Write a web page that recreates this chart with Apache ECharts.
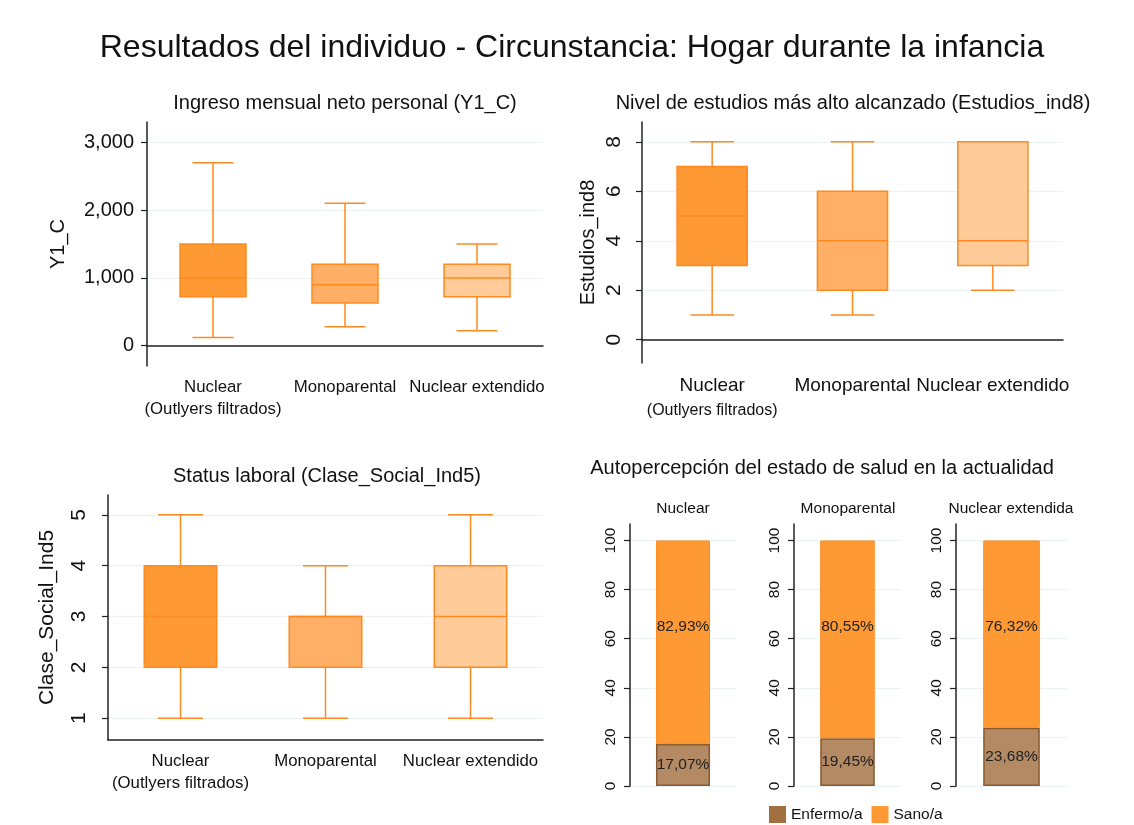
<!DOCTYPE html>
<html>
<head>
<meta charset="utf-8">
<script src="https://cdn.jsdelivr.net/npm/echarts@6/dist/echarts.min.js"></script>
<style>
html, body { margin: 0; padding: 0; background: #fff; }
#chart { width: 1134px; height: 825px; }
</style>
</head>
<body>
<div id="chart"></div>
<script>
// categories
const categories = ["Nuclear", "Monoparental", "Nuclear extendido"];
const filterNote = "(Outlyers filtrados)";
const saludGroups = ["Nuclear", "Monoparental", "Nuclear extendida"];

// boxes: [min, q1, median, q3, max]
const ingresoBoxes = [
  [120, 720, 1000, 1500, 2700],
  [280, 630, 900, 1200, 2100],
  [220, 720, 1000, 1200, 1500]
];
const estudiosBoxes = [
  [1, 3, 5, 7, 8],
  [1, 2, 4, 6, 8],
  [2, 3, 4, 8, 8]
];
const claseBoxes = [
  [1, 2, 3, 4, 5],
  [1, 2, 3, 3, 4],
  [1, 2, 3, 4, 5]
];

// salud (%)
const enfermo = [17.07, 19.45, 23.68];
const sano = [82.93, 80.55, 76.32];

// tick labels
const ingresoTicks = [0, 1000, 2000, 3000];
const estudiosTicks = [0, 2, 4, 6, 8];
const claseTicks = [1, 2, 3, 4, 5];
const saludTicks = [0, 20, 40, 60, 80, 100];

const FONT = "Liberation Sans, Arial, sans-serif";
const TXT = "#111";
const AXIS = "#222";
const GRIDLINE = "#EAF2F3";
const BOX_LINE = "#FF8A1F";
const BOX_FILLS = ["#FF9933", "#FFB066", "#FFCC99"];
const SANO = "#FF9933";
const ENFERMO = "#B38A63";

function boxItem(params, api) {
  const i = api.value(0);
  const lo = api.coord([i, api.value(1)]);
  const q1 = api.coord([i, api.value(2)]);
  const md = api.coord([i, api.value(3)]);
  const q3 = api.coord([i, api.value(4)]);
  const hi = api.coord([i, api.value(5)]);
  const bw = api.size([1, 0])[0] * 0.5;
  const cw = bw * 0.62;
  const x = lo[0];
  const ln = { stroke: BOX_LINE, lineWidth: 1.5 };
  return {
    type: "group",
    children: [
      { type: "line", shape: { x1: x, y1: q1[1], x2: x, y2: lo[1] }, style: ln },
      { type: "line", shape: { x1: x - cw / 2, y1: lo[1], x2: x + cw / 2, y2: lo[1] }, style: ln },
      { type: "line", shape: { x1: x, y1: q3[1], x2: x, y2: hi[1] }, style: ln },
      { type: "line", shape: { x1: x - cw / 2, y1: hi[1], x2: x + cw / 2, y2: hi[1] }, style: ln },
      {
        type: "rect",
        shape: { x: x - bw / 2, y: q3[1], width: bw, height: q1[1] - q3[1] },
        style: { fill: BOX_FILLS[i], stroke: BOX_LINE, lineWidth: 1.5 }
      },
      { type: "line", shape: { x1: x - bw / 2, y1: md[1], x2: x + bw / 2, y2: md[1] }, style: ln }
    ]
  };
}

function catAxis(gridIndex, big) {
  return {
    type: "category",
    gridIndex: gridIndex,
    data: categories,
    axisLine: { show: true, lineStyle: { color: AXIS, width: 1.5 } },
    axisTick: { show: false },
    splitLine: { show: false },
    axisLabel: {
      margin: 10,
      interval: 0,
      fontFamily: FONT,
      color: TXT,
      formatter: (v, i) => i === 0 ? "{a|" + v + "}\n{b|" + filterNote + "}" : "{a|" + v + "}",
      rich: {
        a: { fontSize: big ? 19 : 16.8, lineHeight: big ? 25 : 22, fontFamily: FONT, color: TXT },
        b: { fontSize: big ? 16 : 16.8, lineHeight: big ? 25 : 22, fontFamily: FONT, color: TXT }
      }
    }
  };
}

function valAxis(gridIndex, o) {
  return {
    type: "value",
    gridIndex: gridIndex,
    min: o.min,
    max: o.max,
    name: o.name || "",
    nameLocation: "middle",
    nameRotate: 90,
    nameGap: o.nameGap || 40,
    nameTextStyle: { fontFamily: FONT, fontSize: o.nameSize || 20, color: TXT },
    axisLine: { show: true, lineStyle: { color: AXIS, width: 1.5 } },
    axisTick: { show: true, length: 6, customValues: o.ticks, lineStyle: { color: AXIS, width: 1.2 } },
    axisLabel: {
      customValues: o.ticks,
      rotate: o.rotate || 0,
      margin: o.margin,
      fontFamily: FONT,
      fontSize: o.fontSize,
      color: TXT,
      formatter: o.fmt
    },
    splitLine: { show: true, lineStyle: { color: GRIDLINE, width: 1.2 } }
  };
}

function titleAt(text, cx, top, size) {
  return {
    text: text,
    left: cx,
    top: top,
    textAlign: "center",
    padding: 0,
    textStyle: { fontFamily: FONT, fontSize: size, fontWeight: "normal", color: TXT }
  };
}

const grids = [
  { left: 147, top: 122, width: 396, height: 244 },
  { left: 642, top: 122, width: 421, height: 241 },
  { left: 108, top: 495, width: 435, height: 245 },
  { left: 630, top: 524, width: 106, height: 262 },
  { left: 794, top: 524, width: 107, height: 262 },
  { left: 956, top: 524, width: 111, height: 262 }
];

const xAxes = [catAxis(0, false), catAxis(1, true), catAxis(2, false)];
const yAxes = [
  valAxis(0, { min: -300, max: 3300, ticks: ingresoTicks, name: "Y1_C", nameGap: 79, fontSize: 20, margin: 13,
    fmt: v => Number(v).toLocaleString("en-US") }),
  valAxis(1, { min: -0.94, max: 8.8, ticks: estudiosTicks, name: "Estudios_ind8", nameGap: 44, fontSize: 21, margin: 17, rotate: 90 }),
  valAxis(2, { min: 0.57, max: 5.39, ticks: claseTicks, name: "Clase_Social_Ind5", nameGap: 50, nameSize: 21, fontSize: 21, margin: 18, rotate: 90 })
];

saludGroups.forEach((g, k) => {
  xAxes.push({
    type: "category",
    gridIndex: 3 + k,
    data: [g],
    axisLine: { show: false },
    axisTick: { show: false },
    axisLabel: { show: false }
  });
  yAxes.push(valAxis(3 + k, { min: 0, max: 106.7, ticks: saludTicks, fontSize: 15.5, margin: 11, rotate: 90 }));
});

const series = [
  { type: "custom", xAxisIndex: 0, yAxisIndex: 0, renderItem: boxItem, encode: { x: 0, y: [1, 2, 3, 4, 5] },
    data: ingresoBoxes.map((b, i) => [i].concat(b)) },
  { type: "custom", xAxisIndex: 1, yAxisIndex: 1, renderItem: boxItem, encode: { x: 0, y: [1, 2, 3, 4, 5] },
    data: estudiosBoxes.map((b, i) => [i].concat(b)) },
  { type: "custom", xAxisIndex: 2, yAxisIndex: 2, renderItem: boxItem, encode: { x: 0, y: [1, 2, 3, 4, 5] },
    data: claseBoxes.map((b, i) => [i].concat(b)) }
];

const pct = p => p.value.toFixed(2).replace(".", ",") + "%";
saludGroups.forEach((g, k) => {
  series.push({
    type: "bar",
    name: "Enfermo/a",
    xAxisIndex: 3 + k,
    yAxisIndex: 3 + k,
    stack: "s" + k,
    barWidth: "51%",
    data: [enfermo[k]],
    itemStyle: { color: ENFERMO, borderColor: "#8A5A2E", borderWidth: 1.5 },
    label: { show: true, position: "inside", formatter: pct, fontFamily: FONT, fontSize: 15.5, color: "#222" }
  });
  series.push({
    type: "bar",
    name: "Sano/a",
    xAxisIndex: 3 + k,
    yAxisIndex: 3 + k,
    stack: "s" + k,
    barWidth: "51%",
    data: [sano[k]],
    itemStyle: { color: SANO, borderColor: "#FF8A1F", borderWidth: 1 },
    label: { show: true, position: "insideTop", distance: 78, formatter: pct, fontFamily: FONT, fontSize: 15.5, color: "#222" }
  });
});

const option = {
  backgroundColor: "#fff",
  animation: false,
  title: [
    titleAt("Resultados del individuo - Circunstancia: Hogar durante la infancia", 572, 32, 32),
    titleAt("Ingreso mensual neto personal (Y1_C)", 345, 93, 20),
    titleAt("Nivel de estudios más alto alcanzado (Estudios_ind8)", 853, 93, 20),
    titleAt("Status laboral (Clase_Social_Ind5)", 327, 466, 20),
    titleAt("Autopercepción del estado de salud en la actualidad", 822, 458, 20),
    titleAt(saludGroups[0], 683, 501, 15.5),
    titleAt(saludGroups[1], 848, 501, 15.5),
    titleAt(saludGroups[2], 1011, 501, 15.5)
  ],
  legend: {
    left: 764,
    top: 801,
    itemWidth: 17,
    itemHeight: 17,
    itemGap: 9,
    icon: "rect",
    textStyle: { fontFamily: FONT, fontSize: 15.5, color: TXT },
    data: [
      { name: "Enfermo/a", itemStyle: { color: "#A0703F", borderWidth: 0 } },
      { name: "Sano/a", itemStyle: { color: SANO, borderWidth: 0 } }
    ]
  },
  grid: grids,
  xAxis: xAxes,
  yAxis: yAxes,
  series: series
};

const chart = echarts.init(document.getElementById("chart"));
chart.setOption(option);
</script>
</body>
</html>
